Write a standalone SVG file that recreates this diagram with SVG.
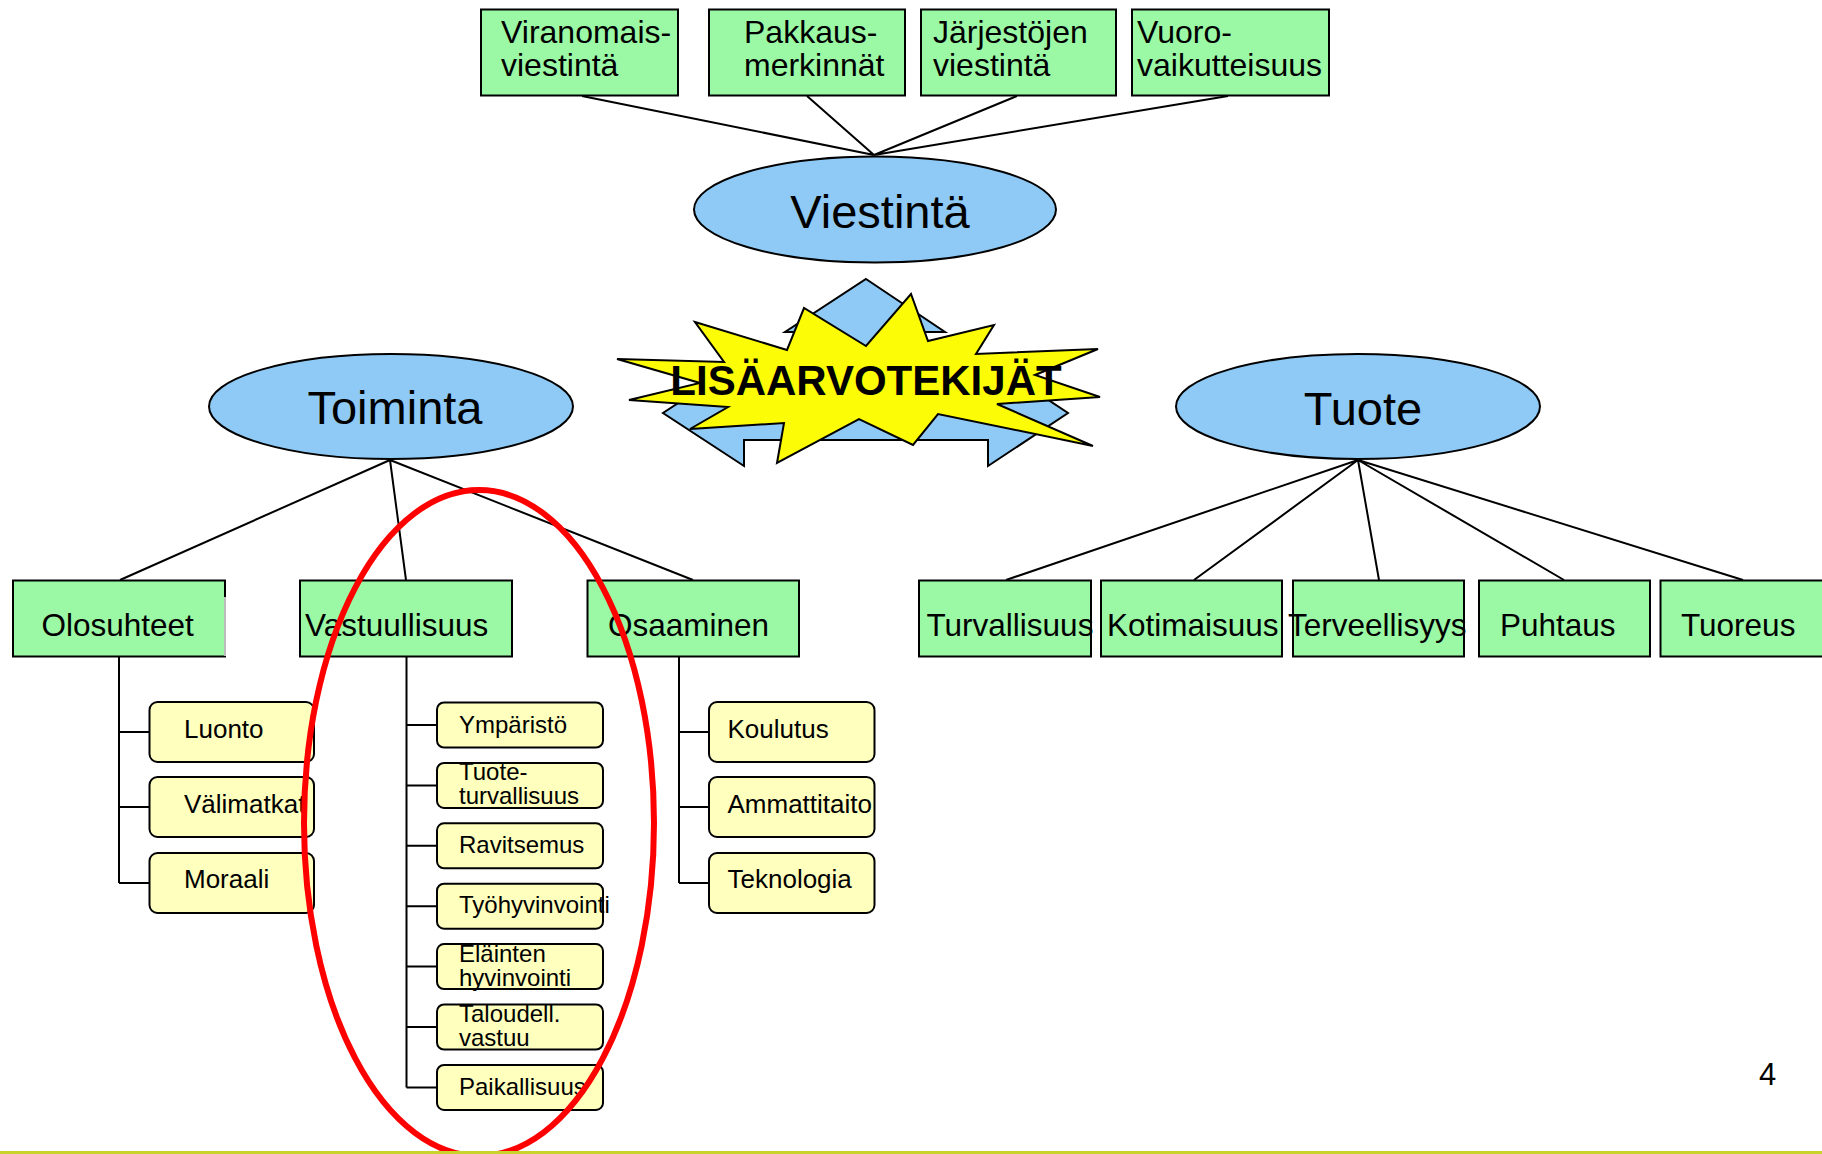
<svg xmlns="http://www.w3.org/2000/svg" width="1822" height="1154" viewBox="0 0 1822 1154">
<style>
text{font-family:"Liberation Sans",Arial,sans-serif;fill:#000}
.g{fill:#9BF9A6;stroke:#000;stroke-width:2}
.e{fill:#8ECAF5;stroke:#000;stroke-width:2}
.y{fill:#FFFFBE;stroke:#000;stroke-width:2}
.c{stroke:#000;stroke-width:2;fill:none}
.t32{font-size:32px}
.t31{font-size:31.5px}
.t47{font-size:47px}
.t26{font-size:26px}
.t24{font-size:24px}
</style>
<rect width="1822" height="1154" fill="#fff"/>

<g id="connectors">
<path class="c" d="M582,96L874,155M807,96L874,155M1017,96L874,155M1228,96L874,155"/>
<path class="c" d="M390,460L120,580M390,460L406,580M390,460L693,580"/>
<path class="c" d="M1358,460L1006,580M1358,460L1194,580M1358,460L1379,580M1358,460L1564,580M1358,460L1743,580"/>
<path class="c" d="M119,657V883M119,732H150M119,807H150M119,883H150"/>
<path class="c" d="M406.5,657V1087.4M406.5,725H437M406.5,785.4H437M406.5,845.8H437M406.5,906.2H437M406.5,966.6H437M406.5,1027H437M406.5,1087.4H437"/>
<path class="c" d="M679,657V883M679,732H709M679,807H709M679,883H709"/>
</g>

<g id="n-viranomais"><rect class="g" x="481" y="9.5" width="197" height="86"/><text class="t32" x="501" y="43">Viranomais-</text><text class="t32" x="501" y="76">viestintä</text></g>
<g id="n-pakkaus"><rect class="g" x="709" y="9.5" width="196" height="86"/><text class="t32" x="744" y="43">Pakkaus-</text><text class="t32" x="744" y="76">merkinnät</text></g>
<g id="n-jarjestojen"><rect class="g" x="921" y="9.5" width="195" height="86"/><text class="t32" x="933" y="43">Järjestöjen</text><text class="t32" x="933" y="76">viestintä</text></g>
<g id="n-vuoro"><rect class="g" x="1132" y="9.5" width="197" height="86"/><text class="t32" x="1137" y="43">Vuoro-</text><text class="t32" x="1137" y="76">vaikutteisuus</text></g>

<g id="n-viestinta"><ellipse class="e" cx="875" cy="209.5" rx="181" ry="53"/><text class="t47" x="880" y="228" text-anchor="middle">Viestintä</text></g>

<g id="n-lisaarvo">
<polygon fill="#8ECAF5" stroke="#000" stroke-width="2" points="866,279 945,332 906,332 906,386 988,386 988,360 1068,413 988,466 988,440 744,440 744,466 663,413 744,360 744,386 826,386 826,332 785,332"/>
<polygon fill="#FCFC06" stroke="#000" stroke-width="2" points="695,322 787,350 804,308 866,346 911,294 928,341 994,325 976,354 1098,349 1035,375 1100,397 997,404 1093,446 938,414 913,445 859,419 777,463 784,423 690,429 728,407 629,400 700,383 617,359 724,362"/>
<text x="866" y="395" text-anchor="middle" style="font-size:42px;font-weight:bold">LISÄARVOTEKIJÄT</text>
</g>

<g id="n-toiminta"><ellipse class="e" cx="391" cy="406.5" rx="182" ry="52.5"/><text class="t47" x="395" y="424" text-anchor="middle">Toiminta</text></g>
<g id="n-tuote"><ellipse class="e" cx="1358" cy="406.5" rx="182" ry="52.5"/><text class="t47" x="1363" y="425" text-anchor="middle">Tuote</text></g>

<g id="n-olosuhteet"><rect class="g" x="13" y="580.5" width="212" height="76"/><line x1="225" y1="597" x2="225" y2="656" stroke="#BDBDBD" stroke-width="2"/><text class="t31" x="41.5" y="636">Olosuhteet</text></g>
<g id="n-vastuullisuus"><rect class="g" x="300" y="580.5" width="212" height="76"/><text class="t31" x="305" y="636">Vastuullisuus</text></g>
<g id="n-osaaminen"><rect class="g" x="587.5" y="580.5" width="211.5" height="76"/><text class="t31" x="608" y="636">Osaaminen</text></g>
<g id="n-turvallisuus"><rect class="g" x="919" y="580.5" width="172" height="76"/><text class="t31" x="926.5" y="636">Turvallisuus</text></g>
<g id="n-kotimaisuus"><rect class="g" x="1101" y="580.5" width="181" height="76"/><text class="t31" x="1107" y="636">Kotimaisuus</text></g>
<g id="n-terveellisyys"><rect class="g" x="1293" y="580.5" width="171" height="76"/><text class="t31" x="1288" y="636">Terveellisyys</text></g>
<g id="n-puhtaus"><rect class="g" x="1479" y="580.5" width="171" height="76"/><text class="t31" x="1500" y="636">Puhtaus</text></g>
<g id="n-tuoreus"><rect class="g" x="1660.5" y="580.5" width="180" height="76"/><text class="t31" x="1681" y="636">Tuoreus</text></g>

<g id="n-luonto"><rect class="y" x="149.5" y="702" width="164.5" height="60" rx="8"/><text class="t26" x="184" y="738">Luonto</text></g>
<g id="n-valimatkat"><rect class="y" x="149.5" y="777" width="164.5" height="60" rx="8"/><text class="t26" x="184" y="813">Välimatkat</text></g>
<g id="n-moraali"><rect class="y" x="149.5" y="853" width="164.5" height="60" rx="8"/><text class="t26" x="184" y="888">Moraali</text></g>

<g id="n-ymparisto"><rect class="y" x="437" y="702.5" width="166" height="45" rx="7"/><text class="t24" x="459" y="733">Ympäristö</text></g>
<g id="n-tuoteturv"><rect class="y" x="437" y="762.9" width="166" height="45" rx="7"/><text class="t24" x="459" y="780">Tuote-</text><text class="t24" x="459" y="804">turvallisuus</text></g>
<g id="n-ravitsemus"><rect class="y" x="437" y="823.3" width="166" height="45" rx="7"/><text class="t24" x="459" y="853">Ravitsemus</text></g>
<g id="n-tyohyv"><rect class="y" x="437" y="883.7" width="166" height="45" rx="7"/><text class="t24" x="459" y="913">Työhyvinvointi</text></g>
<g id="n-elainten"><rect class="y" x="437" y="944.1" width="166" height="45" rx="7"/><text class="t24" x="459" y="962">Eläinten</text><text class="t24" x="459" y="986">hyvinvointi</text></g>
<g id="n-taloudell"><rect class="y" x="437" y="1004.5" width="166" height="45" rx="7"/><text class="t24" x="459" y="1022">Taloudell.</text><text class="t24" x="459" y="1046">vastuu</text></g>
<g id="n-paikallisuus"><rect class="y" x="437" y="1064.9" width="166" height="45" rx="7"/><text class="t24" x="459" y="1095">Paikallisuus</text></g>

<g id="n-koulutus"><rect class="y" x="709" y="702" width="165.5" height="60" rx="8"/><text class="t26" x="727.5" y="738">Koulutus</text></g>
<g id="n-ammattitaito"><rect class="y" x="709" y="777" width="165.5" height="60" rx="8"/><text class="t26" x="727.5" y="813">Ammattitaito</text></g>
<g id="n-teknologia"><rect class="y" x="709" y="853" width="165.5" height="60" rx="8"/><text class="t26" x="727.5" y="888">Teknologia</text></g>

<ellipse cx="479" cy="823" rx="175" ry="333" fill="none" stroke="#FF0000" stroke-width="6"/>
<line x1="0" y1="1152.5" x2="1822" y2="1152.5" stroke="#C9D32B" stroke-width="3"/>
<text x="1759" y="1085" style="font-size:31px">4</text>
</svg>
